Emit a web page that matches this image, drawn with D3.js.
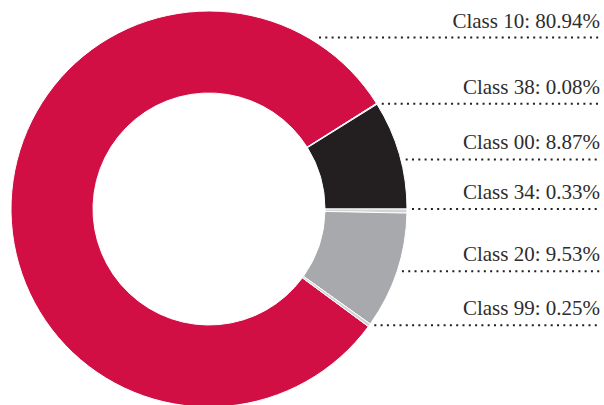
<!DOCTYPE html>
<html>
<head>
<meta charset="utf-8">
<script src="https://cdn.jsdelivr.net/npm/d3@7"></script>
<style>
  body { margin: 0; background: #fff; }
  text { font-family: "Liberation Serif", "DejaVu Serif", serif; fill: #2e2c2d; }
</style>
</head>
<body>
<script>
// slices in drawing order (clockwise), values in percent
const classes = ['Class 10', 'Class 38', 'Class 00', 'Class 34', 'Class 20', 'Class 99'];
const shares = [80.94, 0.08, 8.87, 0.33, 9.53, 0.25];
const colors = ['#d10f45', '#a7a9ac', '#231f20', '#d1d3d4', '#a7a9ac', '#d1d3d4'];
// a few labels are pinned to another point on the ring than the slice middle
const labelAngles = [30, null, 75.5, 90, null, null];

function drawDonut() {
  const width = 604;
  const height = 405;
  const cx = 209, cy = 209;
  const outer = 198, inner = 116;

  const svg = d3.select('body')
    .append('svg')
    .attr('width', width)
    .attr('height', height);

  const data = classes.map((c, i) => ({name: c, value: shares[i], color: colors[i], labelAngle: labelAngles[i]}));

  // red slice begins where the grey/light slices below 3 o'clock end
  const afterQuarter = shares[3] + shares[4] + shares[5];
  const start = (90 + afterQuarter * 3.6) * Math.PI / 180;

  const pie = d3.pie()
    .sort(null)
    .value(d => d.value)
    .startAngle(start)
    .endAngle(start + 2 * Math.PI);

  const arc = d3.arc().innerRadius(inner).outerRadius(outer);

  const g = svg.append('g').attr('transform', `translate(${cx},${cy})`);
  const arcs = pie(data);

  g.selectAll('path')
    .data(arcs)
    .enter()
    .append('path')
    .attr('d', arc)
    .style('fill', d => d.data.color)
    .style('stroke', '#fff')
    .style('stroke-width', 1);

  const labels = svg.selectAll('g.label')
    .data(arcs)
    .enter()
    .append('g')
    .attr('class', 'label');

  labels.each(function(d, i) {
    let a = (d.startAngle + d.endAngle) / 2;
    if (d.data.labelAngle !== null) a = d.data.labelAngle * Math.PI / 180;
    const gap = i === 0 ? 11 : 5;
    const x = cx + outer * Math.sin(a) + gap;
    const y = cy - outer * Math.cos(a);
    const sel = d3.select(this);
    sel.append('line')
      .attr('x1', x)
      .attr('x2', 600)
      .attr('y1', y)
      .attr('y2', y)
      .style('stroke', '#231f20')
      .style('stroke-width', 2)
      .style('stroke-dasharray', '2,4.3');
    sel.append('text')
      .attr('x', 600)
      .attr('y', y - 10)
      .attr('text-anchor', 'end')
      .style('font-size', '21px')
      .text(`${d.data.name}: ${d3.format('.2f')(d.data.value)}%`);
  });
}

window.onload = drawDonut;
</script>
</body>
</html>
